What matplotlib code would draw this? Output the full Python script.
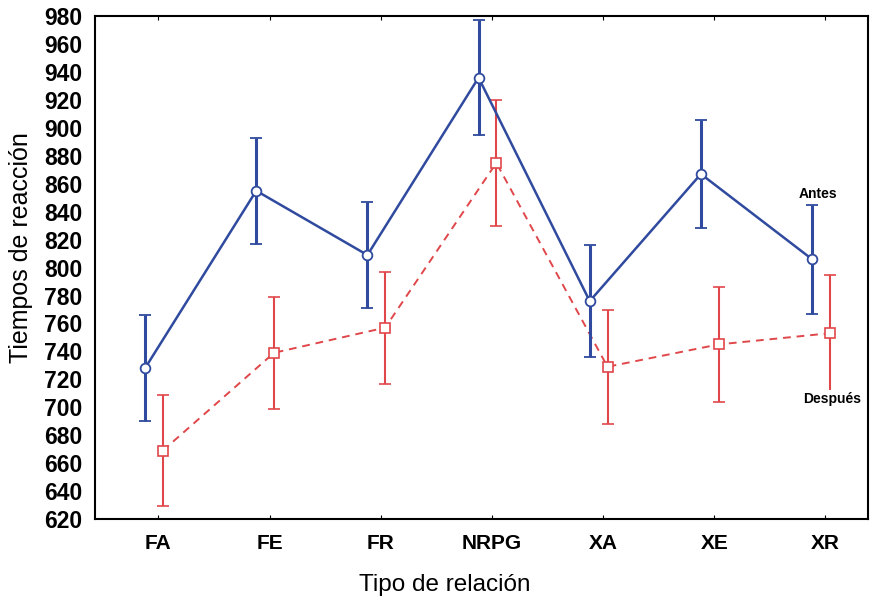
import matplotlib.pyplot as plt
import numpy as np

plt.rcParams["font.family"] = ["Liberation Sans", "DejaVu Sans"]

categories = ["FA", "FE", "FR", "NRPG", "XA", "XE", "XR"]
antes_mean = [728, 855, 809, 936, 776, 867, 806]
antes_err = [38, 38, 38, 41, 40, 39, 39]
despues_mean = [669, 739, 757, 875, 729, 745, 753]
despues_err = [40, 40, 40, 45, 41, 41, 42]

blue = "#2f4a9e"
red = "#e0474a"

fig = plt.figure(figsize=(8.72, 6.0), dpi=100)
ax = fig.add_axes([0.109, 0.135, 0.886, 0.838])

x = np.arange(len(categories))

ax.errorbar(x + 0.04, despues_mean, yerr=despues_err, color=red, lw=1.4,
            ls=(0, (4, 3)), elinewidth=1.5, capsize=4.5, capthick=1.5,
            marker="s", ms=7, mfc="white", mec=red, mew=1.2, zorder=2)
ax.errorbar(x - 0.12, antes_mean, yerr=antes_err, color=blue, lw=1.8,
            elinewidth=2.2, capsize=4.5, capthick=2.0,
            marker="o", ms=7, mfc="white", mec=blue, mew=1.3, zorder=3)

ax.text(5.93, 853, "Antes", fontsize=10, fontweight="bold", ha="center", va="center")
ax.text(6.06, 706, "Después", fontsize=10, fontweight="bold", ha="center", va="center",
        bbox=dict(facecolor="white", edgecolor="none", pad=1), zorder=4)

ax.set_xlim(-0.57, 6.38)
ax.set_ylim(620, 980)
ax.set_xticks(x)
ax.set_xticklabels(categories, fontsize=15, fontweight="bold")
ax.set_yticks(np.arange(620, 981, 20))
ax.tick_params(axis="y", labelsize=16.5, length=0, pad=9)
for lab in ax.get_yticklabels():
    lab.set_fontweight("bold")
ax.tick_params(axis="x", direction="in", length=3, top=True, pad=11)

ax.set_xlabel("Tipo de relación", fontsize=17.5)
ax.set_ylabel("Tiempos de reacción", fontsize=18)
# label positions (pixels -> axes fraction)
ax.xaxis.set_label_coords((445 - 95) / 773, -(585 - 519) / 503)
ax.yaxis.set_label_coords(-(95 - 21) / 773, (519 - 247) / 503)
ax.xaxis.label.set_va("center")
ax.yaxis.label.set_va("center")

for s in ax.spines.values():
    s.set_linewidth(1.5)

fig.savefig("out.png", dpi=100)
